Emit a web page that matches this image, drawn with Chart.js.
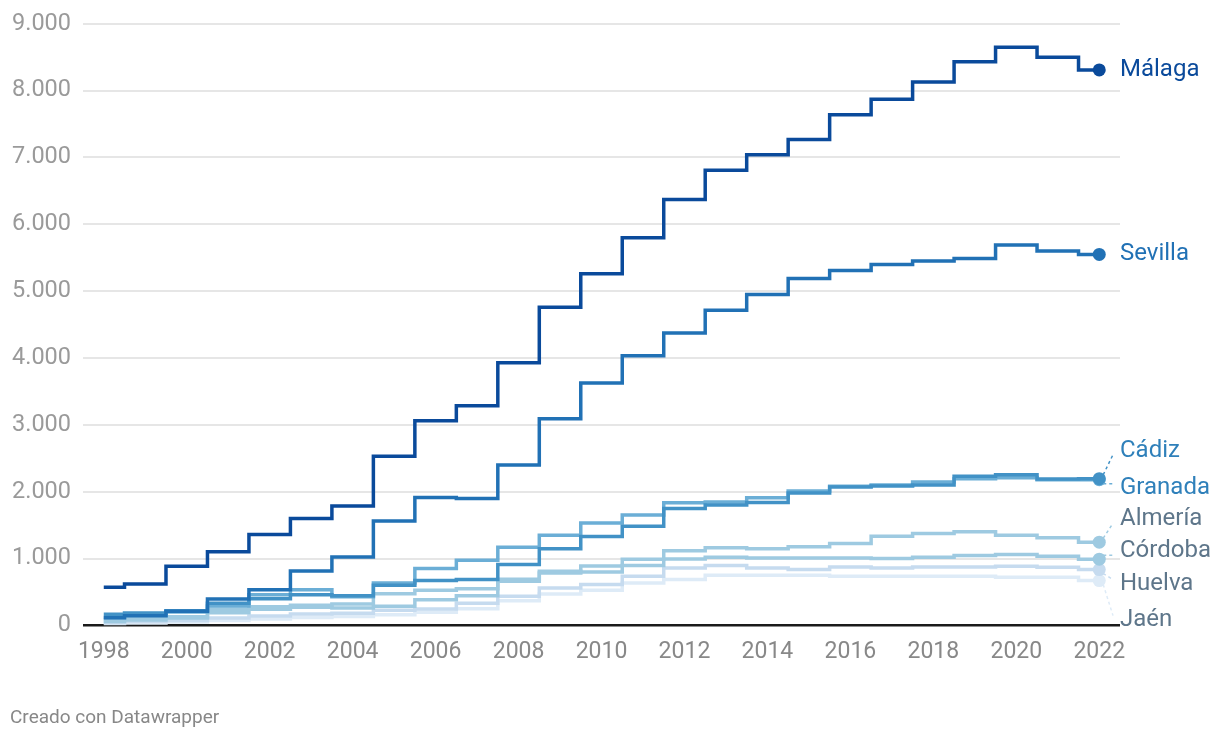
<!DOCTYPE html>
<html>
<head>
<meta charset="utf-8">
<script src="https://cdn.jsdelivr.net/npm/chart.js@4"></script>
<style>
    html, body { margin: 0; padding: 0; background: #fff; }
    #wrap { position: relative; width: 1220px; height: 740px; }
    #footer {
        position: absolute; left: 10px; top: 705px;
        font-family: Roboto, sans-serif; font-size: 19px; color: #888;
    }
</style>
</head>
<body>
<div id="wrap">
    <canvas id="chart" width="1220" height="740"></canvas>
    <div id="footer">Creado con Datawrapper</div>
</div>
<script>
// Years (x categories)
const years = ['1998', '1999', '2000', '2001', '2002', '2003', '2004', '2005', '2006', '2007', '2008', '2009', '2010',
    '2011', '2012', '2013', '2014', '2015', '2016', '2017', '2018', '2019', '2020', '2021', '2022'];

// Series values, one per province
const malaga = [570, 620, 885, 1100, 1360, 1600, 1785, 2530, 3060, 3285, 3930, 4760, 5260,
    5800, 6370, 6810, 7040, 7270, 7640, 7870, 8130, 8430, 8650, 8500, 8310];
const sevilla = [115, 145, 210, 395, 535, 815, 1025, 1560, 1915, 1900, 2400, 3090, 3625,
    4035, 4375, 4715, 4950, 5190, 5310, 5400, 5450, 5490, 5690, 5600, 5550];
const cadiz = [165, 185, 220, 330, 400, 460, 445, 600, 670, 685, 910, 1145, 1330,
    1485, 1750, 1800, 1840, 1980, 2070, 2085, 2100, 2230, 2255, 2190, 2195];
const granada = [120, 150, 200, 290, 460, 535, 430, 635, 850, 975, 1170, 1350, 1530,
    1650, 1835, 1845, 1910, 2010, 2080, 2100, 2145, 2195, 2210, 2180, 2180];
const almeria = [60, 80, 110, 190, 240, 300, 320, 475, 525, 550, 660, 785, 890,
    990, 1115, 1160, 1145, 1175, 1225, 1335, 1375, 1400, 1350, 1310, 1245];
const cordoba = [90, 110, 130, 240, 280, 270, 260, 285, 385, 445, 690, 810, 800,
    895, 995, 1020, 1010, 1010, 1010, 1000, 1020, 1045, 1060, 1035, 990];
const huelva = [40, 60, 75, 110, 140, 170, 180, 225, 245, 330, 435, 560, 610,
    735, 860, 895, 860, 835, 875, 860, 875, 875, 885, 870, 835];
const jaen = [25, 35, 50, 75, 95, 120, 135, 160, 195, 250, 370, 470, 525,
    635, 685, 750, 750, 750, 735, 735, 735, 735, 720, 720, 670];

// Names and y-axis ticks
const names = ['Málaga', 'Sevilla', 'Cádiz', 'Granada', 'Almería', 'Córdoba', 'Huelva', 'Jaén'];
const yTicks = [0, 1000, 2000, 3000, 4000, 5000, 6000, 7000, 8000, 9000];

// Styles
const lineColors = ['#0a4a9b', '#2171b5', '#4292c6', '#6baed6', '#9ecae1', '#9ecae1', '#c6dbef', '#deebf7'];
const textColors = ['#0a4a9b', '#2171b5', '#2f80ba', '#2f80ba', '#5e768a', '#5e768a', '#5e768a', '#5e768a'];
const labelOffsets = [0, 0, -28, 8, -23, -8, 14, 39];
const FONT = 'Roboto, "Open Sans", sans-serif';

const series = [malaga, sevilla, cadiz, granada, almeria, cordoba, huelva, jaen];

function fmt(v) {
    if (v >= 1000) return Math.floor(v / 1000) + '.' + String(v % 1000).padStart(3, '0');
    return String(v);
}

// Draw end labels with dashed leaders
const endLabels = {
    id: 'endLabels',
    afterDatasetsDraw(chart) {
        const ctx = chart.ctx;
        ctx.save();
        ctx.font = '24px ' + FONT;
        ctx.textBaseline = 'middle';
        ctx.textAlign = 'left';
        series.forEach((data, i) => {
            const meta = chart.getDatasetMeta(i);
            const pt = meta.data[data.length - 1];
            const ly = pt.y + labelOffsets[i];
            const lx = chart.chartArea.right;
            if (Math.abs(labelOffsets[i]) > 5) {
                const dir = Math.sign(labelOffsets[i]);
                ctx.strokeStyle = lineColors[i];
                ctx.lineWidth = 1.5;
                ctx.setLineDash([3, 3]);
                ctx.beginPath();
                ctx.moveTo(pt.x + 4, pt.y + dir * 4);
                ctx.lineTo(lx - 7, ly - dir * 4);
                ctx.stroke();
                ctx.setLineDash([]);
            }
            ctx.fillStyle = textColors[i];
            ctx.fillText(names[i], lx, ly);
        });
        ctx.restore();
    }
};

new Chart(document.getElementById('chart'), {
    type: 'line',
    data: {
        labels: years,
        datasets: series.map((data, i) => ({
            label: names[i],
            data: data,
            borderColor: lineColors[i],
            backgroundColor: lineColors[i],
            borderWidth: 3.5,
            stepped: 'middle',
            fill: false,
            pointRadius: data.map((v, j) => j === data.length - 1 ? 6.5 : 0),
            pointBorderWidth: 0,
            pointHoverRadius: 0
        }))
    },
    options: {
        responsive: false,
        animation: false,
        layout: { padding: { left: 0, right: 100, top: 12, bottom: 69 } },
        plugins: {
            legend: { display: false },
            tooltip: { enabled: false }
        },
        scales: {
            x: {
                type: 'category',
                offset: true,
                grid: { display: false },
                border: { display: false },
                ticks: {
                    autoSkip: false,
                    maxRotation: 0,
                    padding: 5,
                    color: '#888',
                    font: { family: FONT, size: 23 },
                    callback: function (v, i) { return i % 2 === 0 ? this.getLabelForValue(v) : ''; }
                }
            },
            y: {
                min: 0,
                max: 9000,
                afterBuildTicks: scale => { scale.ticks = yTicks.map(v => ({ value: v })); },
                border: { display: false },
                grid: {
                    drawTicks: false,
                    color: c => c.tick.value === 0 ? '#1a1a1a' : '#e6e6e6',
                    lineWidth: c => c.tick.value === 0 ? 2.5 : 2
                },
                ticks: {
                    padding: 12,
                    color: '#9a9a9a',
                    font: { family: FONT, size: 23.5, lineHeight: 1 },
                    callback: v => fmt(v)
                }
            }
        }
    },
    plugins: [endLabels]
});
</script>
</body>
</html>
